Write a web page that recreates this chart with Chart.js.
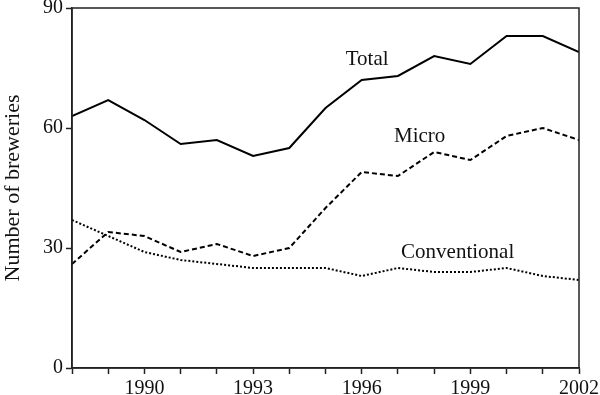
<!DOCTYPE html>
<html>
<head>
<meta charset="utf-8">
<script src="https://cdn.jsdelivr.net/npm/chart.js@4/dist/chart.umd.min.js"></script>
<style>
  html, body { margin: 0; padding: 0; background: #fff; }
  #wrap { width: 600px; height: 395px; }
</style>
</head>
<body>
<div id="wrap"><canvas id="chart" width="600" height="395"></canvas></div>
<script>
// data
const years        = [1988, 1989, 1990, 1991, 1992, 1993, 1994, 1995, 1996, 1997, 1998, 1999, 2000, 2001, 2002];
const total        = [63, 67, 62, 56, 57, 53, 55, 65, 72, 73, 78, 76, 83, 83, 79];
const micro        = [26, 34, 33, 29, 31, 28, 30, 40, 49, 48, 54, 52, 58, 60, 57];
const conventional = [37, 33, 29, 27, 26, 25, 25, 25, 23, 25, 24, 24, 25, 23, 22];
const yTicks       = [0, 30, 60, 90];
const xLabelYears  = [1990, 1993, 1996, 1999, 2002];

// line labels, placed in data units
const seriesLabels = [
  { text: 'Total',        x: 1996.15, y: 75.8 },
  { text: 'Micro',        x: 1997.6,  y: 56.5 },
  { text: 'Conventional', x: 1998.65, y: 27.5 }
];

const FONT = '"Liberation Serif", "DejaVu Serif", serif';
const pts = arr => years.map((yr, i) => ({ x: yr, y: arr[i] }));

// frame around plot + text labels on the lines
const frameAndLabels = {
  id: 'frameAndLabels',
  afterDraw(chart) {
    const { ctx, chartArea: a, scales } = chart;
    ctx.save();
    ctx.strokeStyle = '#222';
    ctx.lineWidth = 1.5;
    ctx.strokeRect(a.left, a.top, a.right - a.left, a.bottom - a.top);
    ctx.fillStyle = '#111';
    ctx.font = '21px ' + FONT;
    ctx.textAlign = 'center';
    ctx.textBaseline = 'alphabetic';
    seriesLabels.forEach(l => {
      ctx.fillText(l.text, scales.x.getPixelForValue(l.x), scales.y.getPixelForValue(l.y));
    });
    ctx.restore();
  }
};

new Chart(document.getElementById('chart'), {
  type: 'line',
  data: {
    datasets: [
      { label: 'Total', data: pts(total), borderColor: '#000', borderWidth: 2, pointRadius: 0, tension: 0 },
      { label: 'Micro', data: pts(micro), borderColor: '#000', borderWidth: 2, borderDash: [5, 3], pointRadius: 0, tension: 0 },
      { label: 'Conventional', data: pts(conventional), borderColor: '#000', borderWidth: 2, borderDash: [2, 2], pointRadius: 0, tension: 0 }
    ]
  },
  options: {
    responsive: false,
    animation: false,
    layout: { padding: { top: 8, right: 21, left: 0, bottom: 0 } },
    plugins: { legend: { display: false }, tooltip: { enabled: false } },
    scales: {
      x: {
        type: 'linear',
        min: 1988, max: 2002,
        border: { display: true, color: '#222', width: 1.5 },
        grid: { display: true, drawOnChartArea: false, drawTicks: true, tickLength: 6, color: '#222', tickWidth: 1.5 },
        ticks: {
          stepSize: 1, autoSkip: false, maxRotation: 0, padding: 3,
          color: '#111', font: { family: FONT, size: 20 },
          callback: v => xLabelYears.includes(v) ? String(v) : ''
        },
        afterFit: s => { s.height = 27; s.paddingLeft = 0; s.paddingRight = 0; }
      },
      y: {
        min: 0, max: 90,
        border: { display: true, color: '#222', width: 1.5 },
        grid: { display: true, drawOnChartArea: false, drawTicks: true, tickLength: 6, color: '#222', tickWidth: 1.5 },
        afterBuildTicks: s => { s.ticks = yTicks.map(v => ({ value: v })); },
        ticks: { padding: 3, color: '#111', font: { family: FONT, size: 20 } },
        title: { display: true, text: 'Number of breweries', color: '#111', font: { family: FONT, size: 22 }, padding: { top: 0, bottom: 8 } },
        afterFit: s => { s.width = 72; s.paddingTop = 0; s.paddingBottom = 0; }
      }
    }
  },
  plugins: [frameAndLabels]
});
</script>
</body>
</html>
